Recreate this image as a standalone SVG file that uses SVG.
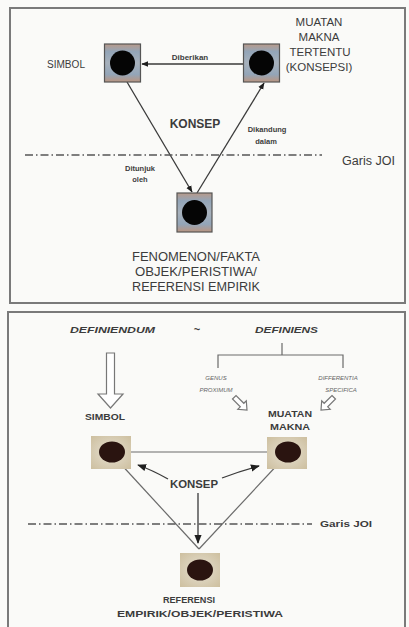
<svg xmlns="http://www.w3.org/2000/svg" xmlns:xlink="http://www.w3.org/1999/xlink" width="409" height="627" viewBox="0 0 409 627">
<style>
.t{font-family:"Liberation Sans",Arial,sans-serif;fill:#3c3c3c}
.b{font-weight:bold}
.i{font-style:italic}
.g6{fill:#666}
.frame{fill:none;stroke:#7a7a7a;stroke-width:2}
.ln{stroke:#3a3a3a;stroke-width:1.3;fill:none}
.ln2{stroke:#6a6a6a;stroke-width:1.2;fill:none}
.dd{stroke:#555;stroke-width:1.3;stroke-dasharray:8 3 1.5 3;fill:none}
.sqA{fill:url(#gA);stroke:#555;stroke-width:1.2}
.sqB{fill:url(#gB);stroke:none}
.dot{fill:#050505}
.dot2{fill:#2a1410}
.hol{fill:#fff;stroke:#777;stroke-width:1.2}
</style>
<defs>
<linearGradient id="gA" x1="0" y1="0" x2="0" y2="1">
<stop offset="0" stop-color="#b89a8a"/>
<stop offset="0.2" stop-color="#93a5b8"/>
<stop offset="0.5" stop-color="#a7b1bc"/>
<stop offset="0.8" stop-color="#93a5b8"/>
<stop offset="1" stop-color="#bb9580"/>
</linearGradient>
<radialGradient id="gB" cx="0.5" cy="0.5" r="0.7">
<stop offset="0" stop-color="#e6e0d2"/>
<stop offset="1" stop-color="#cdbf9f"/>
</radialGradient>
<marker id="ah" viewBox="0 0 10 10" refX="9" refY="5" markerWidth="7" markerHeight="7" markerUnits="userSpaceOnUse" orient="auto">
<path d="M0,1 L10,5 L0,9 z" fill="#1e1e1e"/>
</marker>
<marker id="ah2" viewBox="0 0 10 10" refX="9" refY="5" markerWidth="9" markerHeight="9" markerUnits="userSpaceOnUse" orient="auto">
<path d="M0,1 L10,5 L0,9 z" fill="#1e1e1e"/>
</marker>
<path id="sha" d="M-2.5,-18 L2.5,-18 L2.5,-7 L6,-7 L0,0 L-6,-7 L-2.5,-7 Z"/>
</defs>
<rect x="0" y="0" width="409" height="627" fill="#fafaf8"/>

<!-- frames -->
<rect class="frame" x="10" y="8" width="395" height="295"/>
<rect class="frame" x="8" y="312" width="397" height="320"/>

<!-- ===== TOP DIAGRAM ===== -->
<g id="connectors-top">
<line class="ln" x1="243" y1="64" x2="142" y2="64" marker-end="url(#ah)"/>
<line class="ln" x1="127" y1="82" x2="192" y2="192" marker-end="url(#ah)"/>
<line class="ln" x1="197" y1="193" x2="264" y2="83" marker-end="url(#ah)"/>
<line class="dd" x1="25" y1="155" x2="322" y2="155"/>
</g>

<g id="simbol-top">
<rect class="sqA" x="104.5" y="44" width="36" height="38"/>
<circle class="dot" cx="122.5" cy="63" r="12.5"/>
<text class="t" x="47" y="68" font-size="10" textLength="38" lengthAdjust="spacingAndGlyphs">SIMBOL</text>
</g>

<g id="muatan-top">
<rect class="sqA" x="243.5" y="44" width="36" height="38"/>
<circle class="dot" cx="261.5" cy="63" r="12.5"/>
<g class="t" font-size="11.5" text-anchor="middle">
<text x="319" y="26">MUATAN</text>
<text x="319" y="41">MAKNA</text>
<text x="320" y="56">TERTENTU</text>
<text x="319" y="71">(KONSEPSI)</text>
</g>
</g>

<g id="fenomenon-top">
<rect class="sqA" x="177" y="193" width="35" height="39"/>
<circle class="dot" cx="194.5" cy="212.5" r="12.5"/>
<g class="t" font-size="12" text-anchor="middle">
<text x="196" y="261" textLength="128" lengthAdjust="spacingAndGlyphs">FENOMENON/FAKTA</text>
<text x="196" y="276" textLength="122" lengthAdjust="spacingAndGlyphs">OBJEK/PERISTIWA/</text>
<text x="196" y="291" textLength="128" lengthAdjust="spacingAndGlyphs">REFERENSI EMPIRIK</text>
</g>
</g>

<g id="labels-top">
<text class="t b" x="190" y="60" font-size="8" text-anchor="middle">Diberikan</text>
<text class="t b" x="195" y="128" font-size="12" text-anchor="middle">KONSEP</text>
<text class="t b" x="267" y="132" font-size="7.5" text-anchor="middle">Dikandung</text>
<text class="t b" x="266" y="144" font-size="7.5" text-anchor="middle">dalam</text>
<text class="t b" x="140" y="171" font-size="7.5" text-anchor="middle">Ditunjuk</text>
<text class="t b" x="140" y="182" font-size="7.5" text-anchor="middle">oleh</text>
<text class="t" x="342" y="165" font-size="12" textLength="53" lengthAdjust="spacingAndGlyphs">Garis JOI</text>
</g>

<!-- ===== BOTTOM DIAGRAM ===== -->
<g id="definiendum">
<text class="t b i" x="70" y="333" font-size="9" textLength="85" lengthAdjust="spacingAndGlyphs">DEFINIENDUM</text>
<polygon class="hol" points="106.5,353 114.5,353 114.5,394 123,394 110.5,408 98,394 106.5,394"/>
</g>
<text class="t b" x="197" y="333" font-size="11" text-anchor="middle">~</text>
<g id="definiens">
<text class="t b i" x="255" y="333" font-size="9" textLength="63" lengthAdjust="spacingAndGlyphs">DEFINIENS</text>
<path class="ln2" d="M282,343 V355 M218,368 V355 H343 V368"/>
</g>
<g id="genus">
<text class="t i g6" x="216" y="380" font-size="6" text-anchor="middle">GENUS</text>
<text class="t i g6" x="216" y="392" font-size="6" text-anchor="middle">PROXIMUM</text>
<use xlink:href="#sha" class="hol" transform="translate(247,410) rotate(-45)"/>
</g>
<g id="differentia">
<text class="t i g6" x="338" y="380" font-size="6" text-anchor="middle">DIFFERENTIA</text>
<text class="t i g6" x="341" y="392" font-size="6" text-anchor="middle">SPECIFICA</text>
<use xlink:href="#sha" class="hol" transform="translate(321,410) rotate(45)"/>
</g>

<g id="connectors-bottom">
<line class="ln2" x1="125" y1="452" x2="275" y2="452"/>
<line class="ln2" x1="118" y1="461" x2="199" y2="549"/>
<line class="ln2" x1="281" y1="461" x2="199" y2="549"/>
<path class="ln" d="M168,479 Q152,470 138,465" marker-end="url(#ah2)"/>
<path class="ln" d="M222,478 Q240,471 259,466" marker-end="url(#ah2)"/>
<line class="ln" x1="198" y1="493" x2="198" y2="543" marker-end="url(#ah2)"/>
<line class="dd" x1="28" y1="524" x2="312" y2="524"/>
</g>

<g id="simbol-bottom">
<text class="t b" x="85" y="420" font-size="9" textLength="40" lengthAdjust="spacingAndGlyphs">SIMBOL</text>
<rect class="sqB" x="91" y="436" width="40" height="33"/>
<ellipse class="dot2" cx="112" cy="452" rx="13" ry="10.5"/>
</g>

<g id="muatan-bottom">
<text class="t b" x="290" y="417" font-size="9" text-anchor="middle" textLength="44" lengthAdjust="spacingAndGlyphs">MUATAN</text>
<text class="t b" x="290" y="430" font-size="9" text-anchor="middle" textLength="40" lengthAdjust="spacingAndGlyphs">MAKNA</text>
<rect class="sqB" x="267" y="437" width="40" height="32"/>
<ellipse class="dot2" cx="288" cy="452" rx="13" ry="10.5"/>
</g>

<g id="konsep-bottom">
<text class="t b" x="194" y="488" font-size="10" text-anchor="middle" textLength="48" lengthAdjust="spacingAndGlyphs">KONSEP</text>
</g>

<g id="garis-bottom">
<text class="t b" x="320" y="527" font-size="9" textLength="52" lengthAdjust="spacingAndGlyphs">Garis JOI</text>
</g>

<g id="referensi-bottom">
<rect class="sqB" x="180" y="553" width="40" height="34"/>
<ellipse class="dot2" cx="200" cy="570" rx="13" ry="10.5"/>
<text class="t b" x="189" y="603" font-size="9" text-anchor="middle" textLength="52" lengthAdjust="spacingAndGlyphs">REFERENSI</text>
<text class="t b" x="200" y="617" font-size="9" text-anchor="middle" textLength="166" lengthAdjust="spacingAndGlyphs">EMPIRIK/OBJEK/PERISTIWA</text>
</g>
</svg>
